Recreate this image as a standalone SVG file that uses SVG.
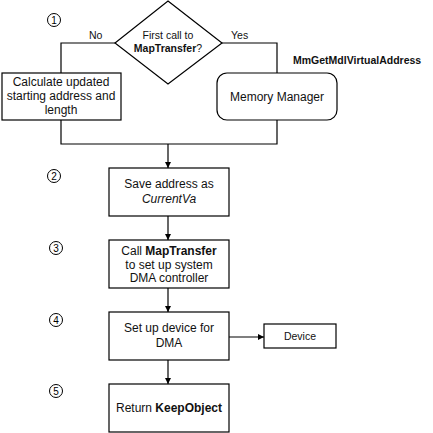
<svg xmlns="http://www.w3.org/2000/svg" width="433" height="433" viewBox="0 0 433 433">
<style>
  .box{fill:#fff;stroke:#000;stroke-width:1.2}
  .ln{fill:none;stroke:#000;stroke-width:1.2}
  .t{font-family:"Liberation Sans",Arial,sans-serif;font-size:12px;fill:#111;text-anchor:middle}
  .s{font-size:10.5px}
  .b{font-weight:bold}
  .i{font-style:italic}
  .num{fill:#fff;stroke:#000;stroke-width:1}
  .nt{font-family:"Liberation Sans",Arial,sans-serif;font-size:10px;fill:#000;text-anchor:middle}
</style>
<defs>
  <marker id="ah" viewBox="0 0 10 10" refX="10" refY="5" markerWidth="6" markerHeight="6" markerUnits="userSpaceOnUse" orient="auto">
    <path d="M0,0 L10,5 L0,10 z" fill="#000"/>
  </marker>
</defs>
<g id="connectors">
  <polyline class="ln" points="115,43 61,43 61,73"/>
  <polyline class="ln" points="222,43 277,43 277,73"/>
  <polyline class="ln" points="61,120 61,144 277,144 277,120"/>
  <line class="ln" x1="168" y1="144" x2="168" y2="168" marker-end="url(#ah)"/>
  <line class="ln" x1="168" y1="216" x2="168" y2="240" marker-end="url(#ah)"/>
  <line class="ln" x1="168" y1="288" x2="168" y2="312" marker-end="url(#ah)"/>
  <line class="ln" x1="168" y1="360" x2="168" y2="384" marker-end="url(#ah)"/>
  <line class="ln" x1="229" y1="337" x2="264" y2="337" marker-end="url(#ah)"/>
  <text class="t s" x="89" y="39" style="text-anchor:start">No</text>
  <text class="t s" x="231" y="39" style="text-anchor:start">Yes</text>
</g>
<g id="decision">
  <polygon class="box" points="168,1 222,43 168,84 115,43"/>
  <text class="t s" x="168" y="39">First call to</text>
  <text class="t s" x="168" y="52"><tspan class="b">MapTransfer</tspan>?</text>
</g>
<g id="calc">
  <rect class="box" x="2" y="73" width="119" height="47"/>
  <text class="t" x="61" y="86">Calculate updated</text>
  <text class="t" x="61" y="100">starting address and</text>
  <text class="t" x="61" y="114">length</text>
</g>
<g id="memmgr">
  <rect class="box" x="217" y="73" width="120" height="47" rx="10" ry="10"/>
  <text class="t" x="277" y="101">Memory Manager</text>
  <text class="t s b" x="293" y="64" style="text-anchor:start">MmGetMdlVirtualAddress</text>
</g>
<g id="save">
  <rect class="box" x="109" y="168" width="120" height="48"/>
  <text class="t" x="169" y="188">Save address as</text>
  <text class="t i" x="169" y="203">CurrentVa</text>
</g>
<g id="call">
  <rect class="box" x="109" y="240" width="120" height="48"/>
  <text class="t" x="169" y="255">Call <tspan class="b">MapTransfer</tspan></text>
  <text class="t" x="169" y="268.5">to set up system</text>
  <text class="t" x="169" y="282">DMA controller</text>
</g>
<g id="setup">
  <rect class="box" x="109" y="312" width="120" height="48"/>
  <text class="t" x="169" y="332">Set up device for</text>
  <text class="t" x="169" y="347">DMA</text>
</g>
<g id="device">
  <rect class="box" x="264" y="324" width="72" height="24"/>
  <text class="t s" x="300" y="340">Device</text>
</g>
<g id="ret">
  <rect class="box" x="109" y="384" width="120" height="48"/>
  <text class="t" x="169" y="412">Return <tspan class="b">KeepObject</tspan></text>
</g>
<g id="step1"><circle class="num" cx="54" cy="20" r="6.5"/><text class="nt" x="54" y="23.5">1</text></g>
<g id="step2"><circle class="num" cx="54" cy="176" r="6.5"/><text class="nt" x="54" y="179.5">2</text></g>
<g id="step3"><circle class="num" cx="56" cy="248" r="6.5"/><text class="nt" x="56" y="251.5">3</text></g>
<g id="step4"><circle class="num" cx="56" cy="320" r="6.5"/><text class="nt" x="56" y="323.5">4</text></g>
<g id="step5"><circle class="num" cx="56" cy="391" r="6.5"/><text class="nt" x="56" y="394.5">5</text></g>
</svg>
